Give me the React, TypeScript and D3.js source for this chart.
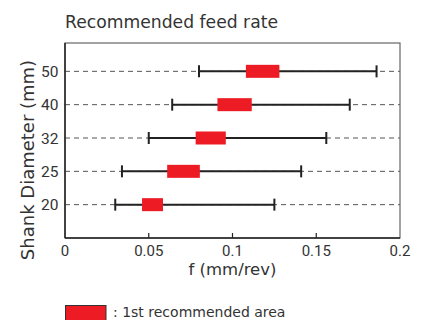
import React from "react";
import * as d3 from "d3";

const categories = ["20", "25", "32", "40", "50"];
const minFeed = [0.030, 0.034, 0.050, 0.064, 0.080];
const maxFeed = [0.125, 0.141, 0.156, 0.170, 0.186];
const recLow = [0.046, 0.061, 0.078, 0.091, 0.108];
const recHigh = [0.0585, 0.0805, 0.096, 0.1115, 0.128];
const xTicks = [0, 0.05, 0.1, 0.15, 0.2];

const W = 424, H = 320;
const left = 65, right = 400, top = 43, bottom = 238;
const FONT = "'DejaVu Sans', sans-serif";
const NUMFONT = "Roboto, sans-serif";

export default function App() {
  const x = d3.scaleLinear().domain([0, 0.2]).range([left, right]);
  const y = d3.scaleLinear().domain([0, 5.85]).range([bottom, top]);
  const fmt = (v: number) => (v === 0 ? "0" : String(v));
  return (
    <svg width={W} height={H} style={{ position: "absolute", left: 0, top: 0 }} fontFamily={FONT}>
      <rect width={W} height={H} fill="#fff" />
      <text x={left} y={28.3} fontSize={17.2} fill="#333">Recommended feed rate</text>
      {categories.map((c, i) => {
        const yy = y(i + 1);
        return (
          <g key={c}>
            <line x1={left} x2={right} y1={yy} y2={yy} stroke="#555" strokeWidth={1} strokeDasharray="5,4" />
            <text x={58.5} y={yy} dy="0.36em" textAnchor="end" fontSize={15.5} fontFamily={NUMFONT} fill="#333">{c}</text>
          </g>
        );
      })}
      {categories.map((c, i) => {
        const yy = y(i + 1);
        return (
          <g key={"b" + c}>
            <line x1={x(minFeed[i])} x2={x(maxFeed[i])} y1={yy} y2={yy} stroke="#222" strokeWidth={2} />
            <line x1={x(minFeed[i])} x2={x(minFeed[i])} y1={yy - 6} y2={yy + 6} stroke="#222" strokeWidth={2} />
            <line x1={x(maxFeed[i])} x2={x(maxFeed[i])} y1={yy - 6} y2={yy + 6} stroke="#222" strokeWidth={2} />
            <rect x={x(recLow[i])} y={yy - 6.5} width={x(recHigh[i]) - x(recLow[i])} height={13} fill="#ED1C24" />
          </g>
        );
      })}
      <rect x={left} y={top} width={right - left} height={bottom - top} fill="none" stroke="#666" strokeWidth={1.2} />
      <line x1={left} x2={left} y1={top} y2={bottom} stroke="#222" strokeWidth={1.5} />
      <line x1={left} x2={right} y1={bottom} y2={bottom} stroke="#222" strokeWidth={1.5} />
      {xTicks.map((t) => (
        <g key={t}>
          {t > 0 && t < 0.2 && <line x1={x(t)} x2={x(t)} y1={bottom} y2={bottom - 5} stroke="#222" strokeWidth={1.2} />}
          <text x={x(t)} y={255.5} textAnchor="middle" fontSize={15} fontFamily={NUMFONT} fill="#333">{fmt(t)}</text>
        </g>
      ))}
      <text x={(left + right) / 2} y={275} textAnchor="middle" fontSize={16.5} fill="#333">f (mm/rev)</text>
      <text transform={`translate(34, 160) rotate(-90)`} textAnchor="middle" fontSize={18} fill="#333">Shank Diameter (mm)</text>
      <rect x={65.5} y={305.5} width={40.5} height={15} fill="#ED1C24" stroke="#333" strokeWidth={1} />
      <text x={113} y={317} fontSize={14} fill="#333">: 1st recommended area</text>
    </svg>
  );
}
